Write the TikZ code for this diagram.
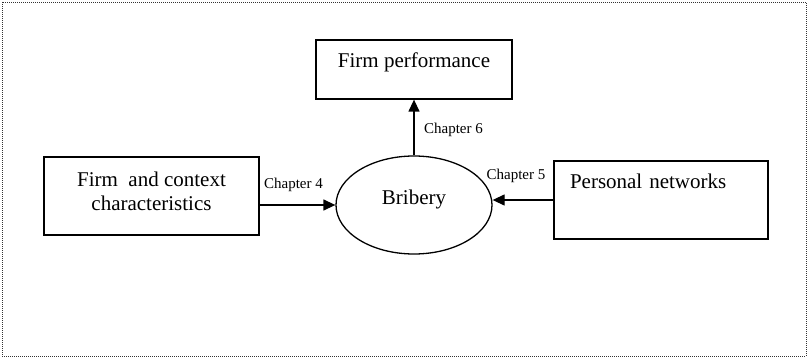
\documentclass[tikz,border=0pt]{standalone}
\usepackage{fontspec}
\setmainfont{Liberation Serif}
\usetikzlibrary{shapes.geometric,arrows.meta}
\tikzset{
  box/.style={rectangle, draw=black, line width=1.3pt, inner sep=0pt, font=\fontsize{21}{24}\selectfont},
  oval/.style={ellipse, draw=black, line width=1.3pt, inner sep=0pt, font=\fontsize{21}{24}\selectfont},
  chap/.style={inner sep=0pt, font=\fontsize{15}{18}\selectfont},
  arr/.style={line width=1.3pt, -{Triangle[length=12pt,width=11pt]}}
}
\begin{document}
\begin{tikzpicture}[x=1pt,y=-1pt]
        \useasboundingbox (0,0) rectangle (808,358);
        \draw [line width=0.8pt, dash pattern=on 1pt off 1pt, black!80] (2,2) rectangle (806,356);

        \node[box, minimum width=196pt, text height=28pt, text depth=31pt] (firm-perf) at(414,69.5){Firm performance};
        \node[box, minimum width=215pt, minimum height=78pt, align=center, text depth=10pt] (firm-ctx) at(151.5,196){Firm~ and context\\characteristics};
        \node[oval, minimum width=156pt, minimum height=98pt, text depth=15pt] (bribery) at(414,205){Bribery};
        \node[box, text width=182pt, inner xsep=16pt, align=left, text height=28pt, text depth=50pt] (pers-net) at(661,200){Personal networks};

        \node[chap] (ch-6) at(453.5,130){Chapter 6};
        \node[chap] (ch-4) at(293.5,185){Chapter 4};
        \node[chap] (ch-5) at(516,176){Chapter 5};

        \draw [arr] (bribery.north) -- (firm-perf.south);
        \draw [arr] (firm-ctx.east |- bribery.west) -- (bribery.west);
        \draw [arr] (pers-net.west) -- (pers-net.west -| bribery.east);

      \end{tikzpicture}
\end{document}
